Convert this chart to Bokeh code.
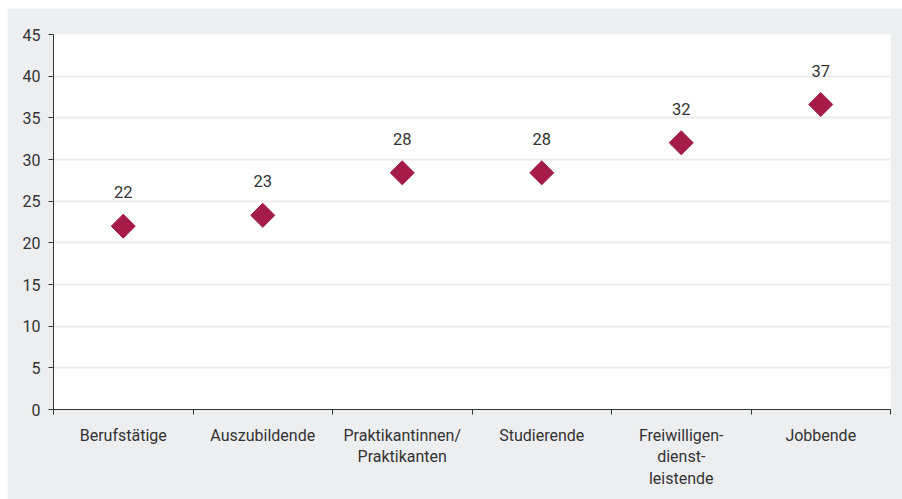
from bokeh.plotting import figure
from bokeh.models import FixedTicker, ColumnDataSource, Range1d
from bokeh.embed import file_html
from bokeh.resources import INLINE
from bokeh.core.properties import value

categories = ["Berufstätige", "Auszubildende", "Praktikantinnen/\nPraktikanten",
              "Studierende", "Freiwilligen-\ndienst-\nleistende", "Jobbende"]
values = [22.0, 23.3, 28.4, 28.4, 32.0, 36.6]
labels = ["22", "23", "28", "28", "32", "37"]
y_ticks = [0, 5, 10, 15, 20, 25, 30, 35, 40, 45]

FONT = "Roboto"
TXT = "#333333"
BG = "#edeef0"

centers = [i + 0.5 for i in range(len(categories))]
src = ColumnDataSource(dict(x=centers, y=values, lab=labels))

p = figure(width=895, height=491, output_backend="svg", toolbar_location=None,
           x_range=Range1d(0, len(categories)), y_range=Range1d(0, 45),
           min_border_left=46, min_border_right=12, min_border_top=26,
           min_border_bottom=90)
p.margin = (8, 0, 0, 7)
p.background_fill_color = "white"
p.border_fill_color = BG
p.outline_line_color = None

p.scatter("x", "y", source=src, marker="square", size=17, angle=0.785398,
          fill_color="#a51c48", line_color="#a51c48")
p.text("x", "y", text="lab", source=src, text_align="center",
       text_baseline="alphabetic", y_offset=-34, text_font=value(FONT),
       text_font_size="16.5px", text_color=TXT)

# x axis
p.xaxis.ticker = FixedTicker(ticks=centers, minor_ticks=list(range(len(categories) + 1)))
p.xaxis.major_label_overrides = {c: lab for c, lab in zip(centers, categories)}
p.xaxis.major_tick_line_color = None
p.xaxis.minor_tick_line_color = "#333333"
p.xaxis.minor_tick_out = 5
p.xaxis.minor_tick_in = 0
p.xaxis.axis_line_color = "#333333"
p.xaxis.major_label_standoff = 10
p.xaxis.major_label_text_font = FONT
p.xaxis.major_label_text_font_size = "16px"
p.xaxis.major_label_text_color = TXT
p.xaxis.major_label_text_line_height = 1.15

# y axis
p.yaxis.ticker = FixedTicker(ticks=y_ticks)
p.yaxis.minor_tick_line_color = None
p.yaxis.major_tick_out = 5
p.yaxis.major_tick_in = 0
p.yaxis.major_tick_line_color = "#333333"
p.yaxis.axis_line_color = "#333333"
p.yaxis.major_label_standoff = 8
p.yaxis.major_label_text_font = FONT
p.yaxis.major_label_text_font_size = "16px"
p.yaxis.major_label_text_color = TXT

p.xgrid.grid_line_color = None
p.ygrid.ticker = FixedTicker(ticks=y_ticks)
p.ygrid.grid_line_color = "#ebebeb"
p.ygrid.grid_line_width = 2

open("out.html", "w").write(file_html(p, INLINE))
